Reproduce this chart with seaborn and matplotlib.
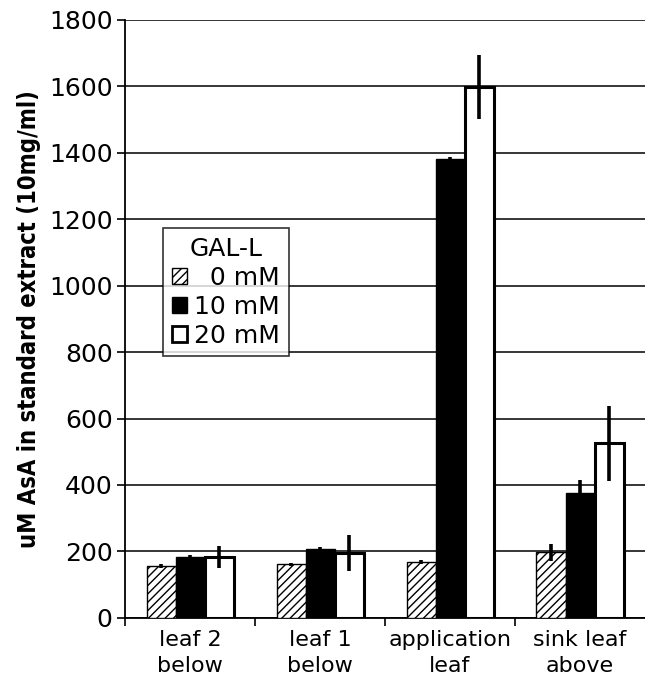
import matplotlib
matplotlib.use("Agg")
import matplotlib.pyplot as plt
import seaborn as sns
import pandas as pd
from matplotlib.patches import Patch

categories = ["leaf 2\nbelow", "leaf 1\nbelow", "application\nleaf", "sink leaf\nabove"]
levels = ["0 mM", "10 mM", "20 mM"]
vals_0 = [157, 161, 167, 197]
vals_10 = [182, 207, 1382, 376]
vals_20 = [183, 195, 1597, 526]
err_0 = [6, 5, 6, 25]
err_10 = [6, 6, 6, 38]
err_20 = [34, 55, 97, 113]
yticks = [0, 200, 400, 600, 800, 1000, 1200, 1400, 1600, 1800]

rows = []
for lvl, vals in zip(levels, [vals_0, vals_10, vals_20]):
    for c, v in zip(categories, vals):
        rows.append({"cat": c, "level": lvl, "val": v})
df = pd.DataFrame(rows)

sns.set_theme(style="white")
plt.rcParams["font.family"] = ["DejaVu Sans"]
for k in ["text.color", "axes.labelcolor", "xtick.color", "ytick.color"]:
    plt.rcParams[k] = "black"
plt.rcParams["hatch.linewidth"] = 1.0

fig = plt.figure(figsize=(6.45, 6.82), dpi=100)
ax = fig.add_axes([0.194, 0.094, 0.806, 0.877])

sns.barplot(data=df, x="cat", y="val", hue="level", order=categories,
            hue_order=levels, palette=["white", "black", "white"],
            edgecolor="black", linewidth=1.0, errorbar=None, width=0.67,
            saturation=1, ax=ax, legend=False, zorder=3)

for i, cont in enumerate(ax.containers):
    for bar in cont:
        if i == 0:
            bar.set_hatch("////")
            bar.set_linewidth(1.0)
        elif i == 2:
            bar.set_linewidth(2.2)

for cont, errs, vals in zip(ax.containers, [err_0, err_10, err_20], [vals_0, vals_10, vals_20]):
    xs = [b.get_x() + b.get_width() / 2 for b in cont]
    ax.errorbar(xs, vals, yerr=errs, fmt="none", ecolor="black",
                elinewidth=2.6, capsize=0, zorder=5)

ax.set_ylim(0, 1800)
ax.set_xlim(-0.5, 3.5)
ax.set_yticks(yticks)
ax.set_yticklabels([str(t) for t in yticks], fontsize=18)
ax.yaxis.grid(True, color="black", linewidth=1.1)
ax.set_axisbelow(True)
ax.tick_params(axis="y", which="major", direction="out", length=6, width=1.2,
               color="black", left=True, pad=3)
ax.set_xticks(range(len(categories)))
ax.set_xticklabels(categories, fontsize=16, linespacing=1.35)
ax.tick_params(axis="x", which="major", length=0, pad=9)
ax.set_xticks([0.5, 1.5, 2.5, -0.5], minor=True)
ax.tick_params(axis="x", which="minor", direction="out", length=6, width=1.2,
               color="black", bottom=True)
ax.set_xlabel("")
ax.set_ylabel("uM AsA in standard extract (10mg/ml)", fontsize=17,
              fontweight="bold", fontstretch="condensed", labelpad=6)

for s in ["top", "right"]:
    ax.spines[s].set_visible(False)
for s in ["left", "bottom"]:
    ax.spines[s].set_color("black")
    ax.spines[s].set_linewidth(1.3)

handles = [Patch(facecolor="white", edgecolor="black", hatch="////", label="\u2007" + levels[0]),
           Patch(facecolor="black", edgecolor="black", label=levels[1]),
           Patch(facecolor="white", edgecolor="black", linewidth=2, label=levels[2])]
leg = ax.legend(handles=handles, title="GAL-L", loc="upper left",
                bbox_to_anchor=(0.073, 0.652), fontsize=18, title_fontsize=18,
                frameon=True, fancybox=False, edgecolor="black",
                handlelength=0.6, handleheight=0.6, handletextpad=0.3,
                borderpad=0.35, labelspacing=0.2, borderaxespad=0)
leg.get_frame().set_linewidth(1.2)
leg.set_zorder(10)

fig.savefig("out.png", dpi=100, facecolor="white")
